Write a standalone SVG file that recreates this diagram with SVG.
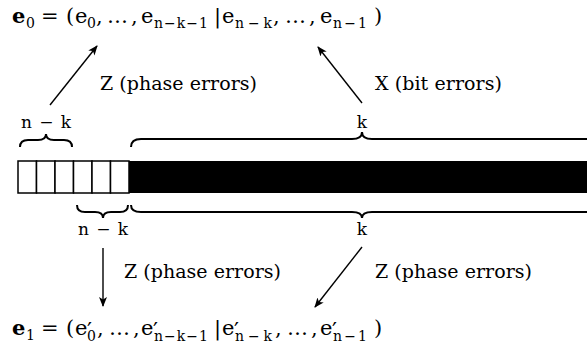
<svg xmlns="http://www.w3.org/2000/svg" width="587" height="351" viewBox="0 0 587 351">
<style>
text{font-family:"DejaVu Serif","Liberation Serif",serif;fill:#000}
.m{font-size:21px}
.b{font-weight:bold}
.s{font-size:14px}
.p{font-size:22px}
.lbl{font-size:19px}
.nk{font-size:17px}
.ln{stroke:#000;stroke-width:1.4;fill:none}
.br{stroke:#000;stroke-width:2;fill:none}
.cell{fill:#fff;stroke:#000;stroke-width:1.5}
</style>
<defs>
<marker id="ah" viewBox="0 0 10 10" refX="9" refY="5" markerWidth="10" markerHeight="10" markerUnits="userSpaceOnUse" orient="auto">
<path d="M0,1 L10,5 L0,9 L2.5,5 Z" fill="#000"/>
</marker>
</defs>

<g id="e0">
<text class="m b" x="12" y="23">e</text><text class="s" x="26" y="28">0</text>
<text class="m" x="41" y="23">=</text>
<text class="m" x="66" y="23">(</text>
<text class="m" x="75" y="23">e</text><text class="s" x="87" y="28">0</text>
<text class="m" x="96" y="23">,</text>
<text class="m" x="107" y="23" textLength="22">…</text>
<text class="m" x="131" y="23">,</text>
<text class="m" x="141" y="23">e</text><text class="s" x="154" y="28" textLength="54">n−k−1</text>
<text class="m" x="214" y="23">|</text>
<text class="m" x="222" y="23">e</text><text class="s" x="235" y="28" textLength="37">n−k</text>
<text class="m" x="273" y="23">,</text>
<text class="m" x="285" y="23" textLength="22">…</text>
<text class="m" x="309" y="23">,</text>
<text class="m" x="320" y="23">e</text><text class="s" x="333" y="28" textLength="34">n−1</text>
<text class="m" x="374" y="23">)</text>
</g>

<g id="e1">
<text class="m b" x="12" y="335">e</text><text class="s" x="26" y="340">1</text>
<text class="m" x="41" y="335">=</text>
<text class="m" x="66" y="335">(</text>
<text class="m" x="75" y="335">e<tspan class="p" x="87" y="338">′</tspan><tspan class="s" x="87" y="341">0</tspan></text>
<text class="m" x="97" y="335">,</text>
<text class="m" x="109" y="335" textLength="22">…</text>
<text class="m" x="133" y="335">,</text>
<text class="m" x="141" y="335">e<tspan class="p" x="153" y="338">′</tspan><tspan class="s" x="154" y="341" textLength="54">n−k−1</tspan></text>
<text class="m" x="214" y="335">|</text>
<text class="m" x="222" y="335">e<tspan class="p" x="234" y="338">′</tspan><tspan class="s" x="235" y="341" textLength="37">n−k</tspan></text>
<text class="m" x="275" y="335">,</text>
<text class="m" x="287" y="335" textLength="22">…</text>
<text class="m" x="311" y="335">,</text>
<text class="m" x="320" y="335">e<tspan class="p" x="332" y="338">′</tspan><tspan class="s" x="333" y="341" textLength="34">n−1</tspan></text>
<text class="m" x="374" y="335">)</text>
</g>

<g id="register">
<rect class="cell" x="18" y="161" width="18.5" height="32"/>
<rect class="cell" x="36.5" y="161" width="18.5" height="32"/>
<rect class="cell" x="55" y="161" width="18.5" height="32"/>
<rect class="cell" x="73.5" y="161" width="18.5" height="32"/>
<rect class="cell" x="92" y="161" width="18.5" height="32"/>
<rect class="cell" x="110.5" y="161" width="18.5" height="32"/>
<rect x="129" y="161" width="460" height="32" fill="#000"/>
</g>

<g id="brace-top-left">
<path class="br" d="M20,147 Q20,140 28,140 L38,140 Q46,140 46,134 Q46,140 54,140 L64,140 Q72,140 72,147"/>
<text class="nk" x="46" y="128" text-anchor="middle" textLength="50">n − k</text>
</g>
<g id="brace-top-right">
<path class="br" d="M131,147 Q131,139 141,139 L352,139 Q362,139 362,132 Q362,139 372,139 L590,139"/>
<text class="nk" x="362" y="128" text-anchor="middle">k</text>
</g>
<g id="brace-bottom-left">
<path class="br" d="M77,205 Q77,212 85,212 L95,212 Q103,212 103,218 Q103,212 111,212 L120,212 Q128,212 128,205"/>
<text class="nk" x="103" y="235" text-anchor="middle" textLength="50">n − k</text>
</g>
<g id="brace-bottom-right">
<path class="br" d="M131,205 Q131,212 141,212 L352,212 Q362,212 362,218 Q362,212 372,212 L590,212"/>
<text class="nk" x="362" y="235" text-anchor="middle">k</text>
</g>

<g id="connectors">
<line class="ln" x1="50" y1="105" x2="97" y2="46" marker-end="url(#ah)"/>
<line class="ln" x1="362" y1="103" x2="318" y2="47" marker-end="url(#ah)"/>
<line class="ln" x1="103" y1="248" x2="103" y2="306" marker-end="url(#ah)"/>
<line class="ln" x1="362" y1="247" x2="315" y2="307" marker-end="url(#ah)"/>
</g>

<g id="labels">
<text class="lbl" x="100" y="90" textLength="157">Z (phase errors)</text>
<text class="lbl" x="375" y="90" textLength="127">X (bit errors)</text>
<text class="lbl" x="124" y="278" textLength="157">Z (phase errors)</text>
<text class="lbl" x="375" y="278" textLength="157">Z (phase errors)</text>
</g>
</svg>
